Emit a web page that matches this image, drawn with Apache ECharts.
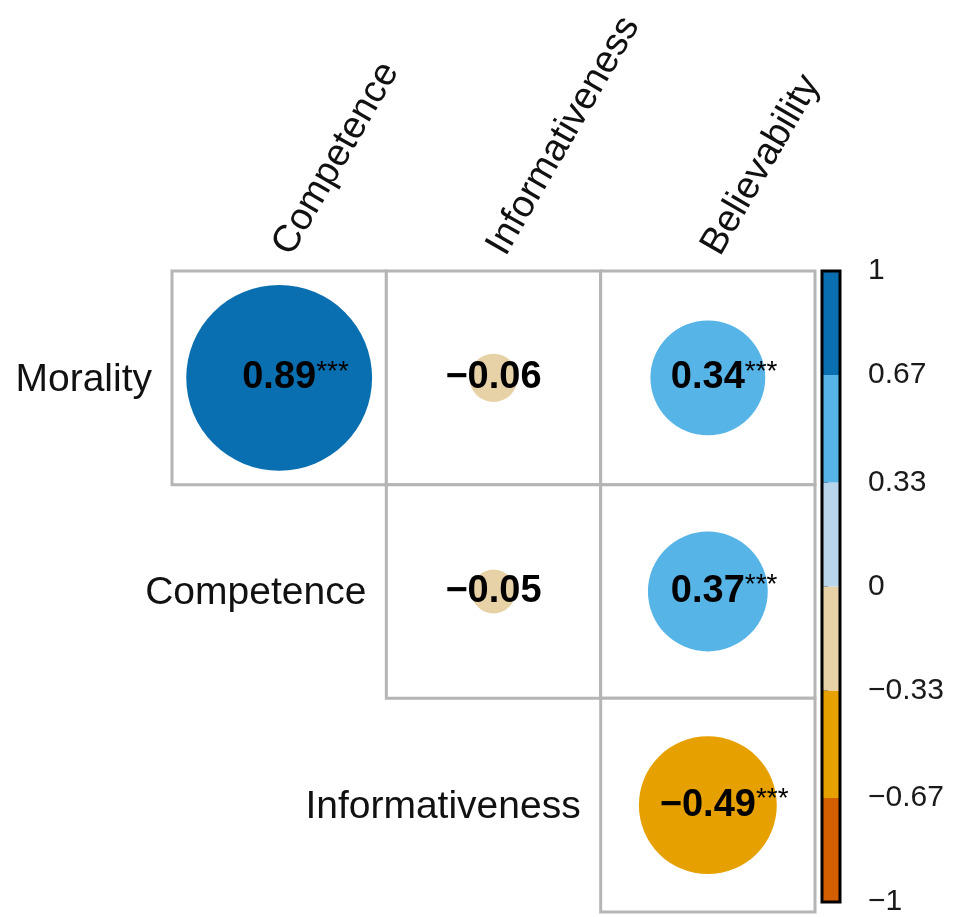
<!DOCTYPE html>
<html><head><meta charset="utf-8">
<script src="https://cdn.jsdelivr.net/npm/echarts@6/dist/echarts.min.js"></script>
<style>html,body{margin:0;padding:0;background:#fff}#c{width:961px;height:917px}</style>
</head><body><div id="c"></div>
<script>
const colLabels = ['Competence', 'Informativeness', 'Believability'];
const rowLabels = ['Morality', 'Competence', 'Informativeness'];
const corrMorality = [0.89, -0.06, 0.34];
const corrCompetence = [null, -0.05, 0.37];
const corrInformativeness = [null, null, -0.49];
const starsMorality = ['***', '', '***'];
const starsCompetence = [null, '', '***'];
const starsInformativeness = [null, null, '***'];
const colorBreaks = [-1, -0.67, -0.33, 0, 0.33, 0.67, 1];
const binColors = ['#d45f00', '#e6a000', '#e7d2a8', '#b9d5eb', '#57b4e7', '#0a6fb0'];
const tickValues = [-1, -0.67, -0.33, 0, 0.33, 0.67, 1];
const FONT = '"Liberation Sans", Arial, sans-serif';

const corr = [corrMorality, corrCompetence, corrInformativeness];
const stars = [starsMorality, starsCompetence, starsInformativeness];
const pts = [], cells = [];
corr.forEach((row, r) => row.forEach((v, c) => {
  if (v !== null) { pts.push({ value: [c, r, v], stars: stars[r][c] }); cells.push([c, r]); }
}));
const diag = rowLabels.map((n, r) => [corr[r].findIndex(v => v !== null), r]);
const colPos = colLabels.map((n, c) => [c, 0]);
const segs = binColors.map((col, i) => [colorBreaks[i], colorBreaks[i + 1], i]);
const fmt = v => (v < 0 ? '\u2212' : '') + Math.abs(v).toFixed(2);
const fmtTick = v => (v < 0 ? '\u2212' : '') + String(Math.abs(v));

const chart = echarts.init(document.getElementById('c'), null, { renderer: 'canvas' });
const option = {
  animation: false,
  backgroundColor: '#fff',
  grid: [
    { left: 172, right: 146, top: 271, bottom: 5 },
    { left: 822, right: 121, top: 271, bottom: 5 }
  ],
  xAxis: [
    { type: 'category', data: colLabels, gridIndex: 0, show: false },
    { type: 'value', gridIndex: 1, min: 0, max: 1, show: false }
  ],
  yAxis: [
    { type: 'category', data: rowLabels, inverse: true, gridIndex: 0, show: false },
    {
      type: 'value', gridIndex: 1, min: -1, max: 1, position: 'right',
      axisLine: { show: false }, splitLine: { show: false },
      axisTick: { show: true, customValues: tickValues, length: 6, lineStyle: { color: '#000', width: 2 } },
      axisLabel: { customValues: tickValues, formatter: fmtTick, margin: 28, fontSize: 30, color: '#1a1a1a', fontFamily: FONT }
    }
  ],
  visualMap: {
    type: 'piecewise', show: false, seriesIndex: 1, dimension: 2,
    pieces: segs.map((s, i) => (i === segs.length - 1
      ? { gte: s[0], lte: s[1], color: binColors[s[2]] }
      : { gte: s[0], lt: s[1], color: binColors[s[2]] }))
  },
  series: [
    {
      type: 'custom', xAxisIndex: 0, yAxisIndex: 0, data: cells, z: 1, silent: true,
      renderItem: (params, api) => {
        const p = api.coord([api.value(0), api.value(1)]);
        const s = api.size([1, 1]);
        return { type: 'rect', shape: { x: p[0] - s[0] / 2, y: p[1] - s[1] / 2, width: s[0], height: s[1] },
          style: { fill: '#fff', stroke: '#b5b5b5', lineWidth: 3 } };
      }
    },
    {
      type: 'scatter', xAxisIndex: 0, yAxisIndex: 0, data: pts, z: 3, silent: true,
      symbol: 'circle',
      symbolSize: val => 197 * Math.sqrt(Math.abs(val[2])),
      itemStyle: { opacity: 1 },
      label: {
        show: true, position: 'inside', color: '#000', fontFamily: FONT,
        formatter: p => {
          const s = p.data.stars;
          const n = '{n|' + fmt(p.data.value[2]) + '}';
          return s ? '{p|' + s + '}' + n + '{s|' + s + '}' : n;
        },
        rich: {
          n: { fontSize: 38, fontWeight: 'bold', fontFamily: FONT, color: '#000', lineHeight: 40 },
          s: { fontSize: 28, fontFamily: FONT, color: '#000', verticalAlign: 'top', lineHeight: 20 },
          p: { fontSize: 28, fontFamily: FONT, color: 'rgba(0,0,0,0)', verticalAlign: 'top', lineHeight: 20 }
        }
      },
      emphasis: { disabled: true }
    },
    {
      type: 'custom', xAxisIndex: 0, yAxisIndex: 0, data: diag, z: 4, silent: true,
      renderItem: (params, api) => {
        const r = api.value(1);
        const p = api.coord([api.value(0), r]);
        const s = api.size([1, 1]);
        return { type: 'text', x: p[0] - s[0] / 2 - 20, y: p[1] + 2,
          style: { text: rowLabels[r], align: 'right', verticalAlign: 'middle', fontSize: 39, fontFamily: FONT, fill: '#111' } };
      }
    },
    {
      type: 'custom', xAxisIndex: 0, yAxisIndex: 0, data: colPos, z: 4, silent: true,
      renderItem: (params, api) => {
        const c = api.value(0);
        const p = api.coord([c, 0]);
        const s = api.size([1, 1]);
        return { type: 'text', x: p[0] + 3, y: p[1] - s[1] / 2 - 19, rotation: Math.PI / 3,
          style: { text: colLabels[c], align: 'left', verticalAlign: 'middle', fontSize: 38, fontFamily: FONT, fill: '#111' } };
      }
    },
    {
      type: 'custom', xAxisIndex: 1, yAxisIndex: 1, data: segs, z: 2, silent: true,
      renderItem: (params, api) => {
        const a = api.coord([0, api.value(1)]);
        const b = api.coord([1, api.value(0)]);
        return { type: 'rect', shape: { x: a[0], y: a[1], width: b[0] - a[0], height: b[1] - a[1] },
          style: { fill: binColors[api.value(2)] } };
      }
    },
    {
      type: 'custom', xAxisIndex: 1, yAxisIndex: 1, data: [[colorBreaks[0], colorBreaks[colorBreaks.length - 1]]], z: 3, silent: true,
      renderItem: (params, api) => {
        const a = api.coord([0, api.value(1)]);
        const b = api.coord([1, api.value(0)]);
        return { type: 'rect', shape: { x: a[0], y: a[1], width: b[0] - a[0], height: b[1] - a[1] },
          style: { fill: 'none', stroke: '#000', lineWidth: 3 } };
      }
    }
  ]
};
chart.setOption(option);
</script>
</body></html>
